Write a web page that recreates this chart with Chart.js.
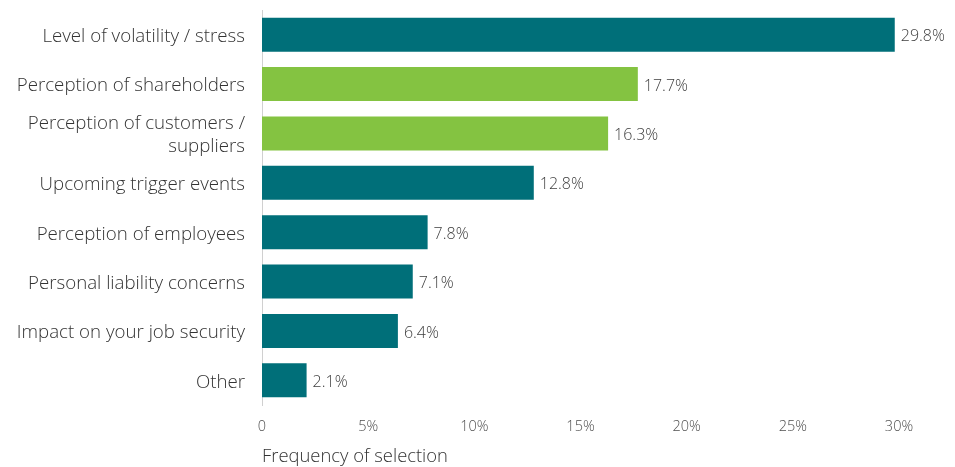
<!DOCTYPE html>
<html>
<head>
<meta charset="utf-8">
<script src="https://cdn.jsdelivr.net/npm/chart.js@4"></script>
<style>
  html, body { margin: 0; padding: 0; background: #fff; }
  #wrap { width: 955px; height: 467px; }
</style>
</head>
<body>
<div id="wrap"><canvas id="myChart" width="955" height="467"></canvas></div>
<script>
// survey answers, most selected first
const categories = [
    'Level of volatility / stress',
    'Perception of shareholders',
    ['Perception of customers /', 'suppliers'],
    'Upcoming trigger events',
    'Perception of employees',
    'Personal liability concerns',
    'Impact on your job security',
    'Other'
];
const frequency = [29.8, 17.7, 16.3, 12.8, 7.8, 7.1, 6.4, 2.1];
const highlighted = [false, true, true, false, false, false, false, false];
const tickValues = [0, 5, 10, 15, 20, 25, 30];

const TEAL = '#006f79';
const GREEN = '#84c341';
const FONT = "'Open Sans', sans-serif";

// writes "29.8%" etc. just past the end of each bar
const valueLabels = {
    id: 'valueLabels',
    afterDatasetsDraw(chart) {
        let ctx = chart.ctx;
        let meta = chart.getDatasetMeta(0);
        ctx.save();
        ctx.font = '300 16px ' + FONT;
        ctx.fillStyle = '#404040';
        ctx.textAlign = 'left';
        ctx.textBaseline = 'middle';
        meta.data.forEach((bar, i) => {
            ctx.fillText(frequency[i].toFixed(1) + '%', bar.x + 6, bar.y + 2);
        });
        ctx.restore();
    }
};

let ctx = document.getElementById('myChart');
new Chart(ctx, {
    type: 'bar',
    data: {
        labels: categories,
        datasets: [{
            label: 'Frequency of selection',
            data: frequency,
            backgroundColor: highlighted.map(h => h ? GREEN : TEAL),
            barPercentage: 0.69,
            categoryPercentage: 1.0
        }]
    },
    options: {
        indexAxis: 'y',
        responsive: false,
        animation: false,
        layout: {
            padding: { top: 10, right: 56, left: 0, bottom: 0 }
        },
        plugins: {
            legend: { display: false },
            tooltip: { enabled: false }
        },
        scales: {
            x: {
                min: 0,
                max: 30,
                afterBuildTicks: scale => {
                    scale.ticks = tickValues.map(v => ({ value: v }));
                },
                afterFit: scale => { scale.height = 62; },
                grid: { display: false, drawTicks: false },
                border: { display: false },
                ticks: {
                    padding: 13,
                    color: '#505050',
                    font: { family: FONT, size: 14.5, weight: 300 },
                    callback: v => v === 0 ? '0' : v + '%'
                },
                title: {
                    display: true,
                    text: 'Frequency of selection',
                    align: 'start',
                    color: '#333',
                    font: { family: FONT, size: 18.4, weight: 300 },
                    padding: { top: 0, bottom: -1 }
                }
            },
            y: {
                afterFit: scale => {
                    scale.width = 262;
                    // keep the first/last label from pushing the plot area in
                    scale.paddingTop = 0;
                    scale.paddingBottom = 0;
                },
                grid: { display: false, drawTicks: false },
                border: { display: true, color: '#d0d0d0', width: 1 },
                ticks: {
                    padding: 17,
                    labelOffset: 2,
                    color: '#333',
                    font: { family: FONT, size: 18.7, weight: 300, lineHeight: 1.23 }
                }
            }
        }
    },
    plugins: [valueLabels]
});
</script>
</body>
</html>
